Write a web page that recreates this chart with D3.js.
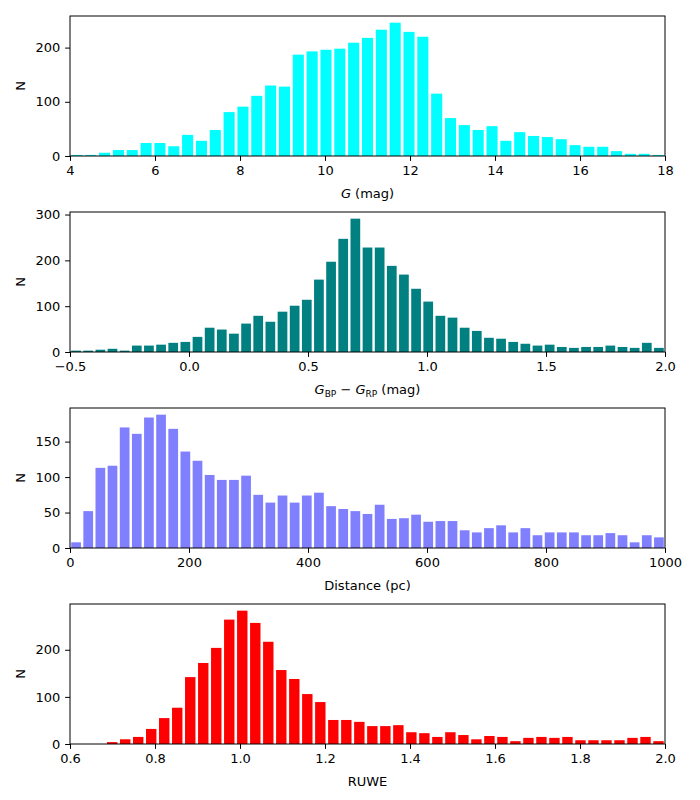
<!DOCTYPE html>
<html>
<head>
<meta charset="utf-8">
<script src="https://cdn.jsdelivr.net/npm/d3@7"></script>
<style>
body { margin: 0; background: #fff; }
svg text { font-family: "DejaVu Sans", sans-serif; }
</style>
</head>
<body>
<svg id="chart" width="700" height="800"></svg>
<script>
// ---- data ----
const gCounts = [2,2,6,11,11,24,24,18,39,28,48,81,91,111,130,128,187,193,196,198,209,218,233,246,229,220,115,70,57,48,55,28,44,37,35,31,20,17,17,9,4,4,2];
const gRange = [4, 18];
const gTicks = [4, 6, 8, 10, 12, 14, 16, 18];
const gYTicks = [0, 100, 200];

const colorCounts = [3,3,5,7,3,14,14,16,20,22,33,53,49,40,62,79,66,88,101,114,158,197,247,291,228,228,188,169,138,110,79,75,53,46,31,29,22,18,14,16,11,9,11,11,14,11,9,20,9];
const colorRange = [-0.5, 2.0];
const colorTicks = [-0.5, 0.0, 0.5, 1.0, 1.5, 2.0];
const colorYTicks = [0, 100, 200, 300];

const distCounts = [8,52,113,116,170,161,184,188,168,136,123,103,96,96,102,75,64,74,64,74,78,59,55,52,48,61,41,42,47,37,38,38,25,22,28,32,22,28,18,22,22,22,18,18,21,18,8,18,15];
const distRange = [0, 1000];
const distTicks = [0, 200, 400, 600, 800, 1000];
const distYTicks = [0, 50, 100, 150];

const ruweCounts = [4,10,15,32,55,77,142,172,204,264,283,257,217,157,138,106,89,51,51,47,38,38,40,25,23,15,25,19,10,17,15,6,13,15,13,15,8,8,8,8,13,15,6];
const ruweRange = [0.684, 2.0];
const ruweAxis = [0.6, 2.0];
const ruweTicks = [0.6, 0.8, 1.0, 1.2, 1.4, 1.6, 1.8, 2.0];
const ruweYTicks = [0, 100, 200];

// ---- layout ----
const svg = d3.select("#chart");
const left = 70, right = 665, plotH = 140;
const tops = [16, 212, 408, 604];
const tick = 4.9, pad = 4.9;

const panels = [
  {counts: gCounts, range: gRange, axis: gRange, ticks: gTicks, yticks: gYTicks, color: "#00ffff", fmt: d3.format("d"), label: "g"},
  {counts: colorCounts, range: colorRange, axis: colorRange, ticks: colorTicks, yticks: colorYTicks, color: "#008080", fmt: d3.format(".1f"), label: "c"},
  {counts: distCounts, range: distRange, axis: distRange, ticks: distTicks, yticks: distYTicks, color: "#8080ff", fmt: d3.format("d"), label: "d"},
  {counts: ruweCounts, range: ruweRange, axis: ruweAxis, ticks: ruweTicks, yticks: ruweYTicks, color: "#ff0000", fmt: d3.format(".1f"), label: "r"}
];

panels.forEach((p, i) => {
  const top = tops[i];
  const g = svg.append("g").attr("transform", `translate(0,${top})`);
  const x = d3.scaleLinear().domain(p.axis).range([left, right]);
  const y = d3.scaleLinear().domain([0, d3.max(p.counts) * 1.05]).range([plotH, 0]);
  const n = p.counts.length;
  const w = (p.range[1] - p.range[0]) / n;
  const bins = p.counts.map((c, k) => ({x0: p.range[0] + k * w, x1: p.range[0] + (k + 1) * w, c}));

  g.selectAll("rect.bar").data(bins).enter().append("rect")
    .attr("class", "bar")
    .attr("x", d => x(d.x0 + 0.1 * w))
    .attr("width", d => x(d.x0 + 0.9 * w) - x(d.x0 + 0.1 * w))
    .attr("y", d => y(d.c))
    .attr("height", d => y(0) - y(d.c))
    .attr("fill", p.color);

  // frame
  g.append("rect").attr("x", left).attr("y", 0).attr("width", right - left).attr("height", plotH)
    .attr("fill", "none").attr("stroke", "#000").attr("stroke-width", 1);

  const xa = g.append("g").attr("transform", `translate(0,${plotH})`)
    .call(d3.axisBottom(x).tickValues(p.ticks).tickFormat(p.fmt).tickSize(tick).tickPadding(pad));
  const ya = g.append("g").attr("transform", `translate(${left},0)`)
    .call(d3.axisLeft(y).tickValues(p.yticks).tickFormat(d3.format("d")).tickSize(tick).tickPadding(pad));
  [xa, ya].forEach(a => {
    a.select(".domain").remove();
    a.selectAll("text").attr("font-size", 13).attr("fill", "#000");
    a.selectAll("line").attr("stroke", "#000");
  });

  g.append("text").attr("transform", `translate(${left - 50},${plotH / 2}) rotate(-90)`)
    .attr("text-anchor", "middle").attr("dy", "0.35em").attr("font-size", 13).text("N");

  const lab = g.append("text").attr("x", (left + right) / 2).attr("y", plotH + 42)
    .attr("text-anchor", "middle").attr("font-size", 13);
  if (p.label === "g") {
    lab.append("tspan").attr("font-style", "italic").text("G");
    lab.append("tspan").text(" (mag)");
  } else if (p.label === "c") {
    lab.append("tspan").attr("font-style", "italic").text("G");
    lab.append("tspan").attr("font-size", 9).attr("dy", 3).text("BP");
    lab.append("tspan").attr("dy", -3).text(" − ");
    lab.append("tspan").attr("font-style", "italic").text("G");
    lab.append("tspan").attr("font-size", 9).attr("dy", 3).text("RP");
    lab.append("tspan").attr("dy", -3).text(" (mag)");
  } else if (p.label === "d") {
    lab.text("Distance (pc)");
  } else {
    lab.text("RUWE");
  }
});
</script>
</body>
</html>
